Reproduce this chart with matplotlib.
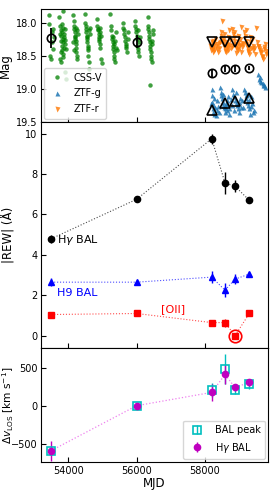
"""
Light curve, BAL equivalent widths and velocity shifts vs MJD (three stacked panels).
"""

import numpy as np
import matplotlib
matplotlib.use('Agg')
import matplotlib.pyplot as plt


# ============================================================================
# DATA
# ============================================================================

# CSS V-band photometry, grouped by observing season
css_mjd = [
    53430, 53450, 53470, 53490, 53510, 53530, 53545, 53560, 53575,
    53740, 53750, 53760, 53770, 53775, 53780, 53790, 53795, 53800, 53805, 53810, 53820,
    53830, 53835, 53840, 53845, 53850, 53860, 53865, 53870, 53880, 53890, 53900, 53855,
    53915, 53925,
    54130, 54145, 54160, 54170, 54180, 54190, 54200, 54210, 54215, 54220, 54230, 54240,
    54250, 54260, 54270, 54280, 54205, 54235, 54175,
    54480, 54495, 54510, 54520, 54530, 54540, 54550, 54560, 54570, 54580, 54590, 54600,
    54610, 54620, 54630, 54640, 54555, 54585,
    54840, 54855, 54870, 54880, 54890, 54900, 54910, 54920, 54930, 54940, 54950, 54960,
    54975, 54905, 54925,
    55230, 55250, 55265, 55280, 55290, 55300, 55310, 55320, 55330, 55340, 55350, 55360,
    55370, 55385, 55400, 55420, 55315, 55345,
    55590, 55610, 55630, 55645, 55660, 55670, 55680, 55700, 55720, 55740, 55760, 55690,
    55950, 55965, 55980, 55990, 56000, 56010, 56025, 56040, 56055, 56070, 56085, 56100,
    56045,
    56320, 56330, 56340, 56350, 56360, 56370, 56380, 56390, 56400, 56410, 56420, 56430,
    56440, 56400, 56460, 56480, 56445, 56470,
    53900, 53920,
]
css_mag = [
    17.88, 18.02, 18.50, 18.55, 18.15, 18.30, 18.10, 18.40, 18.22,
    17.92, 18.18, 18.05, 18.55, 18.12, 18.20, 18.45, 18.28, 18.60, 18.35, 18.42, 18.15,
    18.02, 18.08, 17.83, 18.30, 18.48, 18.25, 18.22, 18.18, 18.38, 18.10, 18.33, 18.52,
    18.27, 18.40,
    17.88, 18.30, 17.98, 18.05, 18.10, 18.15, 18.20, 18.22, 18.45, 18.28, 18.32, 18.38,
    18.12, 18.50, 18.55, 18.18, 18.25, 18.08, 18.42,
    17.87, 18.00, 18.05, 18.10, 18.15, 18.20, 18.25, 18.30, 18.35, 18.42, 18.50, 18.60,
    18.70, 18.12, 18.18, 18.08, 18.22, 18.38,
    17.95, 18.05, 18.10, 18.12, 18.18, 18.22, 18.28, 18.32, 18.38, 18.15, 18.20, 18.55,
    18.62, 18.25, 18.08,
    17.87, 18.05, 18.12, 18.20, 18.25, 18.30, 18.35, 18.40, 18.45, 18.50, 18.55, 18.60,
    18.28, 18.38, 18.15, 18.42, 18.22, 18.33,
    18.00, 18.08, 18.12, 18.18, 18.22, 18.28, 18.32, 18.38, 18.45, 18.25, 18.15, 18.35,
    17.98, 18.05, 18.10, 18.15, 18.20, 18.25, 18.35, 18.40, 18.45, 18.50, 18.30, 18.22,
    18.12,
    17.92, 18.05, 18.10, 18.15, 18.20, 18.25, 18.30, 18.35, 18.40, 18.45, 18.50, 18.55,
    18.60, 18.95, 18.28, 18.18, 18.33, 18.12,
    18.75, 18.85,
]

# ZTF r-band photometry
ztfr_mjd = [
    58160, 58180, 58195, 58200, 58210, 58220, 58230, 58240, 58250, 58265, 58280, 58300,
    58320, 58340, 58360, 58380, 58400, 58420,
    58440, 58460, 58480, 58500, 58520, 58540, 58560, 58580, 58600, 58620, 58640, 58660,
    58680, 58700, 58530, 58610, 58650, 58570, 58670, 58720, 58740, 58760,
    58780, 58800, 58820, 58840, 58860, 58880, 58900, 58920, 58940, 58960, 58980, 59000,
    59020, 59050, 59030, 59060, 58850, 58910, 58970, 59080, 59100,
    59130, 59150, 59170, 59190, 59210, 59230, 59250, 59270, 59290, 59310, 59340, 59370,
    59400, 59420, 59200, 59260, 59330, 59440, 59460,
    59500, 59530, 59560, 59590, 59620, 59650, 59680, 59710, 59740, 59770, 59800,
    59545, 59605, 59665, 59725, 59785,
]
ztfr_mag = [
    18.35, 18.42, 18.30, 18.30, 18.35, 18.40, 18.45, 18.28, 18.38, 18.42, 18.32, 18.25,
    18.36, 18.40, 18.33, 18.44, 18.38, 18.31,
    18.30, 18.15, 18.20, 17.98, 18.25, 18.33, 18.36, 18.40, 18.43, 18.30, 18.35, 18.38,
    18.22, 18.12, 18.28, 18.45, 18.32, 18.18, 18.41, 18.34, 18.27, 18.39,
    18.36, 18.10, 18.18, 18.22, 18.28, 18.32, 18.35, 18.38, 18.40, 18.42, 18.30, 18.36,
    18.25, 18.07, 18.34, 18.44, 18.15, 18.46, 18.20, 18.31, 18.37,
    18.33, 18.15, 18.20, 18.28, 18.32, 18.35, 18.40, 18.43, 18.47, 18.30, 18.38, 18.25,
    18.42, 18.36, 18.12, 18.45, 18.22, 18.39, 18.48,
    18.09, 18.30, 18.35, 18.38, 18.42, 18.45, 18.50, 18.55, 18.40, 18.33, 18.47,
    18.36, 18.44, 18.52, 18.37, 18.43,
]

# ZTF g-band photometry
ztfg_mjd = [
    58180, 58200, 58210, 58220, 58230, 58240, 58250, 58265, 58280, 58300, 58320, 58340,
    58360, 58390, 58420,
    58440, 58460, 58480, 58500, 58520, 58540, 58560, 58580, 58600, 58620, 58640, 58660,
    58680, 58700, 58530, 58590, 58650, 58720, 58750,
    58780, 58800, 58830, 58860, 58880, 58900, 58930, 58960, 58990, 59010, 59030, 59060,
    58850, 58915, 58975, 59090,
    59130, 59150, 59170, 59190, 59210, 59240, 59270, 59300, 59330, 59360, 59390, 59420,
    59225, 59285, 59345, 59440,
    59560, 59590, 59620, 59650, 59690, 59720, 59760, 59600, 59700,
]
ztfg_mag = [
    19.22, 19.00, 19.10, 19.20, 19.25, 19.30, 19.35, 19.38, 19.15, 19.28, 19.40, 19.32,
    19.18, 19.26, 19.36,
    18.98, 19.05, 19.10, 19.15, 19.20, 19.25, 19.28, 19.30, 19.35, 19.22, 19.18, 19.32,
    19.12, 19.38, 19.08, 19.26, 19.24, 19.30, 19.16,
    19.25, 19.00, 19.08, 19.12, 19.18, 19.22, 19.25, 19.30, 19.35, 19.20, 19.15, 19.28,
    19.32, 19.06, 19.24, 19.18,
    19.28, 19.00, 19.05, 19.10, 19.15, 19.20, 19.25, 19.30, 19.38, 19.12, 19.22, 19.35,
    19.08, 19.18, 19.26, 19.32,
    18.78, 18.85, 18.88, 18.90, 18.92, 18.95, 18.98, 18.83, 18.94,
]

# binned magnitudes at the spectroscopic epochs
css_bin_mjd = [53500, 56000]
css_bin_mag = [18.24, 18.29]
css_bin_err = [0.15, 0.10]

spec_mjd = [53500, 56000, 58200, 58590, 58880, 59300]
ztf_bin_mjd = spec_mjd[2:]
ztfr_bin_mag = [18.30, 18.29, 18.30, 18.30]
ztfv_bin_mag = [18.77, 18.70, 18.70, 18.69]
ztfv_bin_err = [0.07, 0.05, 0.05, 0.03]
ztfg_bin_mag = [19.33, 19.22, 19.19, 19.15]

# rest-frame equivalent widths
hg_rew = [4.80, 6.75, 9.75, 7.55, 7.40, 6.70]
hg_rew_err = [0.20, 0.15, 0.25, 0.55, 0.30, 0.05]
h9_rew = [2.65, 2.65, 2.90, 2.25, 2.80, 3.05]
h9_rew_err = [0.20, 0.10, 0.30, 0.35, 0.25, 0.08]
oii_rew = [1.05, 1.10, 0.65, 0.65, 0.00, 1.10]
oii_rew_err = [0.05, 0.05, 0.05, 0.20, 0.05, 0.05]

# line-of-sight velocity shifts
peak_dv = [-590, 0, 210, 480, 210, 280]
peak_dv_err = [60, 20, 90, 200, 60, 60]
hg_dv = [-590, 0, 175, 410, 240, 305]
hg_dv_err = [130, 10, 110, 120, 50, 50]


# ============================================================================
# FIGURE
# ============================================================================

plt.rcParams['font.family'] = ['DejaVu Sans']
plt.rcParams['xtick.direction'] = 'in'
plt.rcParams['ytick.direction'] = 'in'
plt.rcParams['xtick.labelsize'] = 7
plt.rcParams['ytick.labelsize'] = 7
plt.rcParams['xtick.major.pad'] = 2.5
plt.rcParams['ytick.major.pad'] = 2.5

fig, axes = plt.subplots(3, 1, figsize=(2.73, 4.91), dpi=100, sharex=True,
                         gridspec_kw={'height_ratios': [112, 226, 114]})
fig.subplots_adjust(left=0.150, right=0.982, top=0.981, bottom=0.059, hspace=0)
ax1, ax2, ax3 = axes

# --- light curve ---
ax1.plot(css_mjd, css_mag, 'o', color='green', ms=3.2, alpha=0.75, mec='none',
         label='CSS-V')
ax1.plot(ztfg_mjd, ztfg_mag, '^', color='tab:blue', ms=3.6, alpha=0.85, mec='none',
         label='ZTF-g')
ax1.plot(ztfr_mjd, ztfr_mag, 'v', color='tab:orange', ms=3.6, alpha=0.85, mec='none',
         label='ZTF-r')
ax1.errorbar(css_bin_mjd, css_bin_mag, yerr=css_bin_err, fmt='o', mfc='none',
             mec='k', ecolor='k', ms=6, mew=1.2, elinewidth=1.3, capsize=0)
ax1.errorbar(ztf_bin_mjd, ztfv_bin_mag, yerr=ztfv_bin_err, fmt='o', mfc='none',
             mec='k', ecolor='k', ms=6, mew=1.2, elinewidth=1.3, capsize=0)
ax1.plot(ztf_bin_mjd, ztfr_bin_mag, 'v', mfc='none', mec='k', ms=6.5, mew=1.2)
ax1.plot(ztf_bin_mjd, ztfg_bin_mag, '^', mfc='none', mec='k', ms=6.5, mew=1.2)
ax1.set_ylim(19.5, 17.8)
ax1.set_yticks([18.0, 18.5, 19.0, 19.5])
ax1.set_ylabel('Mag', fontsize=8.5)
ax1.yaxis.set_label_coords(-0.128, 0.5)
ax1.legend(loc='lower left', fontsize=7, handletextpad=0.8, borderpad=0.45,
           labelspacing=0.6, handlelength=1.8, borderaxespad=0.3)

# --- equivalent widths ---
ax2.plot(spec_mjd, hg_rew, ':', color='k', lw=0.8, alpha=0.7)
ax2.errorbar(spec_mjd, hg_rew, yerr=hg_rew_err, fmt='o', color='k', ms=4.5,
             elinewidth=1, capsize=0)
ax2.plot(spec_mjd, h9_rew, ':', color='blue', lw=0.8, alpha=0.7)
ax2.errorbar(spec_mjd, h9_rew, yerr=h9_rew_err, fmt='^', color='blue', ms=5,
             elinewidth=1, capsize=0)
ax2.plot(spec_mjd, oii_rew, ':', color='red', lw=0.8, alpha=0.7)
ax2.errorbar(spec_mjd, oii_rew, yerr=oii_rew_err, fmt='s', color='red', ms=4.2,
             elinewidth=1, capsize=0)
ax2.plot(spec_mjd[4], oii_rew[4], 'o', mfc='none', mec='red', ms=9, mew=1.2)
ax2.text(53680, 4.75, r'H$\gamma$ BAL', fontsize=8, color='k', va='center')
ax2.text(53680, 2.1, 'H9 BAL', fontsize=8, color='blue', va='center')
ax2.text(56720, 1.3, '[OII]', fontsize=8, color='red', va='center')
ax2.set_ylim(-0.6, 10.6)
ax2.set_yticks([0, 2, 4, 6, 8, 10])
ax2.set_ylabel('|REW| (Å)', fontsize=8.5)
ax2.yaxis.set_label_coords(-0.113, 0.5)

# --- velocity shifts ---
ax3.plot(spec_mjd, hg_dv, ':', color='violet', lw=0.9)
ax3.errorbar(spec_mjd, peak_dv, yerr=peak_dv_err, fmt='s', mfc='none', mec='c',
             ecolor='c', ms=5.5, mew=1.2, elinewidth=1, capsize=0, label='BAL peak')
ax3.errorbar(spec_mjd, hg_dv, yerr=hg_dv_err, fmt='o', color='m', ms=4.5,
             elinewidth=1, capsize=0, label=r'H$\gamma$ BAL')
ax3.set_ylim(-740, 760)
ax3.set_yticks([-500, 0, 500])
ax3.set_ylabel(r'$\Delta v_{\rm LOS}$ [km s$^{-1}$]', fontsize=7.6)
ax3.yaxis.set_label_coords(-0.112, 0.5)
ax3.legend(loc='lower right', fontsize=7, handletextpad=0.8, borderpad=0.45,
           labelspacing=0.6, borderaxespad=0.3)

ax3.set_xlim(53200, 59850)
ax3.set_xticks([54000, 56000, 58000])
ax3.set_xlabel('MJD', fontsize=8.5, labelpad=1)

fig.savefig('out.png', dpi=100)
